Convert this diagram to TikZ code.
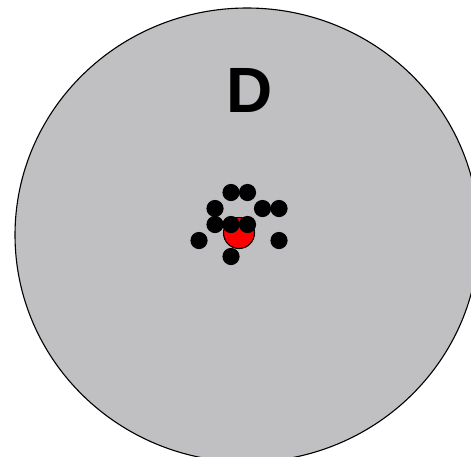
\documentclass[tikz,border=0pt]{standalone}
\usepackage{fontspec}
\setmainfont{Liberation Sans}
\definecolor{diskgray}{RGB}{192,192,194}
\definecolor{dotred}{RGB}{255,0,0}
\begin{document}
\begin{tikzpicture}[x=1pt,y=-1pt]
      \useasboundingbox (0,0) rectangle (471,456);
      \clip (0,0) rectangle (471,456);
      \coordinate (O) at (247,235);
      \coordinate (R) at (239,233);
      \coordinate (P1) at (231,192.5);
      \coordinate (P2) at (247.5,192.5);
      \coordinate (P3) at (215,208.5);
      \coordinate (P4) at (262.5,208.5);
      \coordinate (P5) at (279,208.5);
      \coordinate (P6) at (215,224.5);
      \coordinate (P7) at (231,224.5);
      \coordinate (P8) at (247.5,224.5);
      \coordinate (P9) at (199,240.5);
      \coordinate (P10) at (279,240.5);
      \coordinate (P11) at (231,256.5);
      \draw[fill=diskgray,line width=1.1pt] (O) ellipse [x radius=232, y radius=227];
      \node[font=\fontsize{64}{64}\selectfont\bfseries] (D) at (250,90) {D};
      \draw[fill=dotred,line width=1.1pt] (R) circle [radius=15.5];
      \fill (P1) circle [radius=8.6];
      \fill (P2) circle [radius=8.6];
      \fill (P3) circle [radius=8.6];
      \fill (P4) circle [radius=8.6];
      \fill (P5) circle [radius=8.6];
      \fill (P6) circle [radius=8.6];
      \fill (P7) circle [radius=8.6];
      \fill (P8) circle [radius=8.6];
      \fill (P9) circle [radius=8.6];
      \fill (P10) circle [radius=8.6];
      \fill (P11) circle [radius=8.6];
    \end{tikzpicture}
\end{document}
